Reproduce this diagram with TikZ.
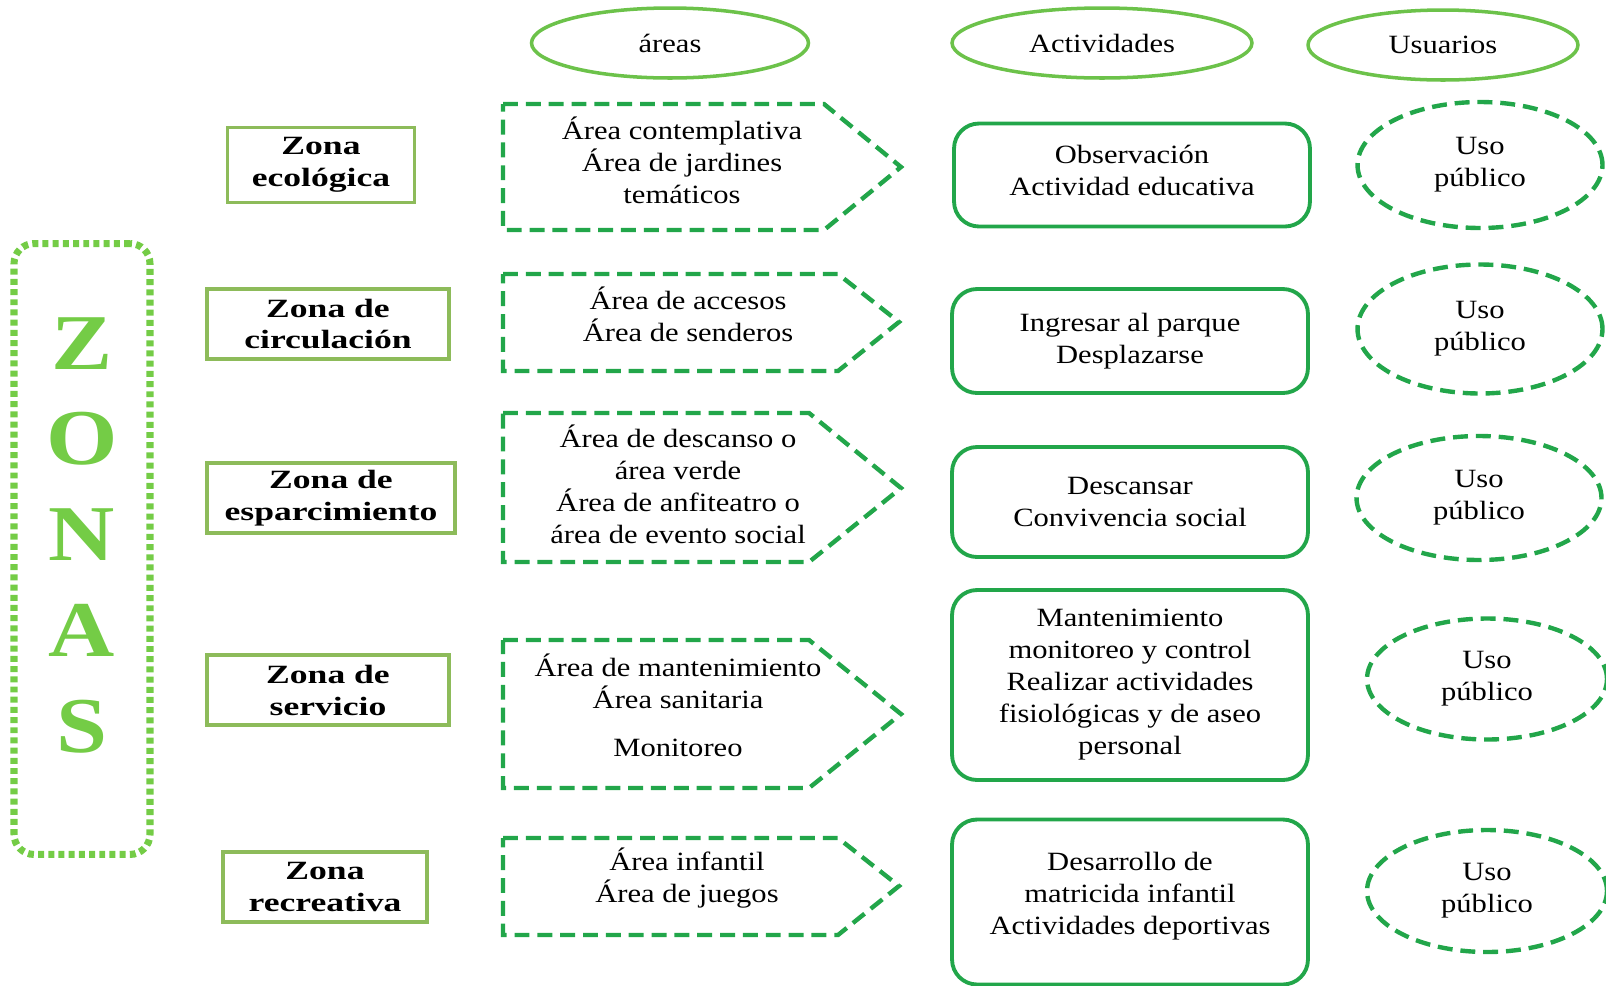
\documentclass[tikz,border=0pt]{standalone}
\usepackage{fontspec}
\setmainfont{Liberation Serif}[FakeStretch=1.16]
\newfontfamily\zonafont{Liberation Serif}[FakeStretch=1.35]
\usetikzlibrary{shapes.geometric,shadows}
\definecolor{verdeclaro}{HTML}{6CC24A}
\definecolor{verdeoliva}{HTML}{8DBB5A}
\definecolor{verde}{HTML}{22A64A}
\definecolor{verdelima}{HTML}{74CC46}
\begin{document}
\begin{tikzpicture}[x=0.02cm, y=-0.02cm, font=\fontsize{15}{18.2}\selectfont,
	titulo/.style={ellipse, draw=verdeclaro, line width=2pt, minimum height=1.4cm, inner sep=0pt},
	zona/.style={draw=verdeoliva, line width=1.9pt, align=center, minimum height=1.4cm, fill=white,
		drop shadow={shadow xshift=0.8pt, shadow yshift=-0.8pt, opacity=0.35},
		font=\zonafont\bfseries\fontsize{15}{18.2}\selectfont},
	flecha/.style={draw=verde, line width=2.5pt, dash pattern={on 8.5pt off 4.5pt}, line join=miter},
	actividad/.style={draw=verde, line width=2.2pt, rounded corners=0.5cm, minimum width=7.12cm, align=center},
	uso/.style={ellipse, draw=verde, line width=2.5pt, dash pattern={on 8.5pt off 4.5pt}, minimum width=4.9cm, align=center, inner sep=0pt}]
		\useasboundingbox (0,0) rectangle (1606,985);
		% cabecera
		\node[titulo, minimum width=5.54cm] (areas) at (670,43) {áreas};
		\node[titulo, minimum width=6cm] (actividades) at (1102,43) {Actividades};
		\node[titulo, minimum width=5.4cm] (usuarios) at (1443,45) {Usuarios};
		% ZONAS
		\node[draw=verdelima, line width=4pt, dash pattern={on 3.4pt off 2.4pt}, rounded corners=0.4cm,
			minimum width=2.72cm, minimum height=12.22cm] (zonas) at (82,549) {};
		\node[text=verdelima, align=center, font=\bfseries\fontsize{45}{54.5}\selectfont] (letras) at (82,535) {Z\\O\\N\\A\\S};
		% zonas
		\node[zona, minimum width=3.74cm, minimum height=1.5cm] (z1) at (321,165) {Zona\\ecológica};
		\node[zona, minimum width=4.84cm] (z2) at (328,324) {Zona de\\circulación};
		\node[zona, minimum width=4.96cm] (z3) at (331,498) {Zona de\\esparcimiento};
		\node[zona, minimum width=4.84cm] (z4) at (328,690) {Zona de\\servicio};
		\node[zona, minimum width=4.08cm] (z5) at (325,887) {Zona\\recreativa};
		% areas
		\draw[flecha] (503,104) -- (824,104) -- (901,167) -- (824,230) -- (503,230) -- cycle;
		\draw[flecha] (503,274) -- (838,274) -- (899,322) -- (838,371) -- (503,371) -- cycle;
		\draw[flecha] (503,413) -- (809,413) -- (901,488) -- (809,562) -- (503,562) -- cycle;
		\draw[flecha] (503,640) -- (809,640) -- (901,714) -- (809,788) -- (503,788) -- cycle;
		\draw[flecha] (503,838) -- (838,838) -- (899,886) -- (838,935) -- (503,935) -- cycle;
		\node[align=center] (a1) at (682,160) {Área contemplativa\\Área de jardines\\temáticos};
		\node[align=center] (a2) at (688,314) {Área de accesos\\Área de senderos};
		\node[align=center] (a3) at (678,484) {Área de descanso o\\área verde\\Área de anfiteatro o\\área de evento social};
		\node[align=center] (a4) at (678,705) {Área de mantenimiento\\Área sanitaria\\[0.6em]Monitoreo};
		\node[align=center] (a5) at (687,878) {Área infantil\\Área de juegos};
		% actividades
		\node[actividad, minimum height=2.06cm] (b1) at (1132,175) {Observación\\Actividad educativa\\[-0.83em]};
		\node[actividad, minimum height=2.08cm] (b2) at (1130,341) {Ingresar al parque\\Desplazarse};
		\node[actividad, minimum height=2.2cm] (b3) at (1130,502) {Descansar\\Convivencia social};
		\node[actividad, minimum height=3.8cm] (b4) at (1130,685) {Mantenimiento\\monitoreo y control\\Realizar actividades\\fisiológicas y de aseo\\personal};
		\node[actividad, minimum height=3.3cm] (b5) at (1130,902) {Desarrollo de\\matricida infantil\\Actividades deportivas\\[-0.55em]};
		% usuarios
		\node[uso, minimum height=2.52cm] (u1) at (1480,165) {Uso\\público};
		\node[uso, minimum height=2.58cm] (u2) at (1480,329) {Uso\\público};
		\node[uso, minimum height=2.48cm] (u3) at (1479,498) {Uso\\público};
		\node[uso, minimum width=4.8cm, minimum height=2.42cm] (u4) at (1487,679) {Uso\\público};
		\node[uso, minimum width=4.8cm, minimum height=2.44cm] (u5) at (1487,891) {Uso\\público};
\end{tikzpicture}
\end{document}
